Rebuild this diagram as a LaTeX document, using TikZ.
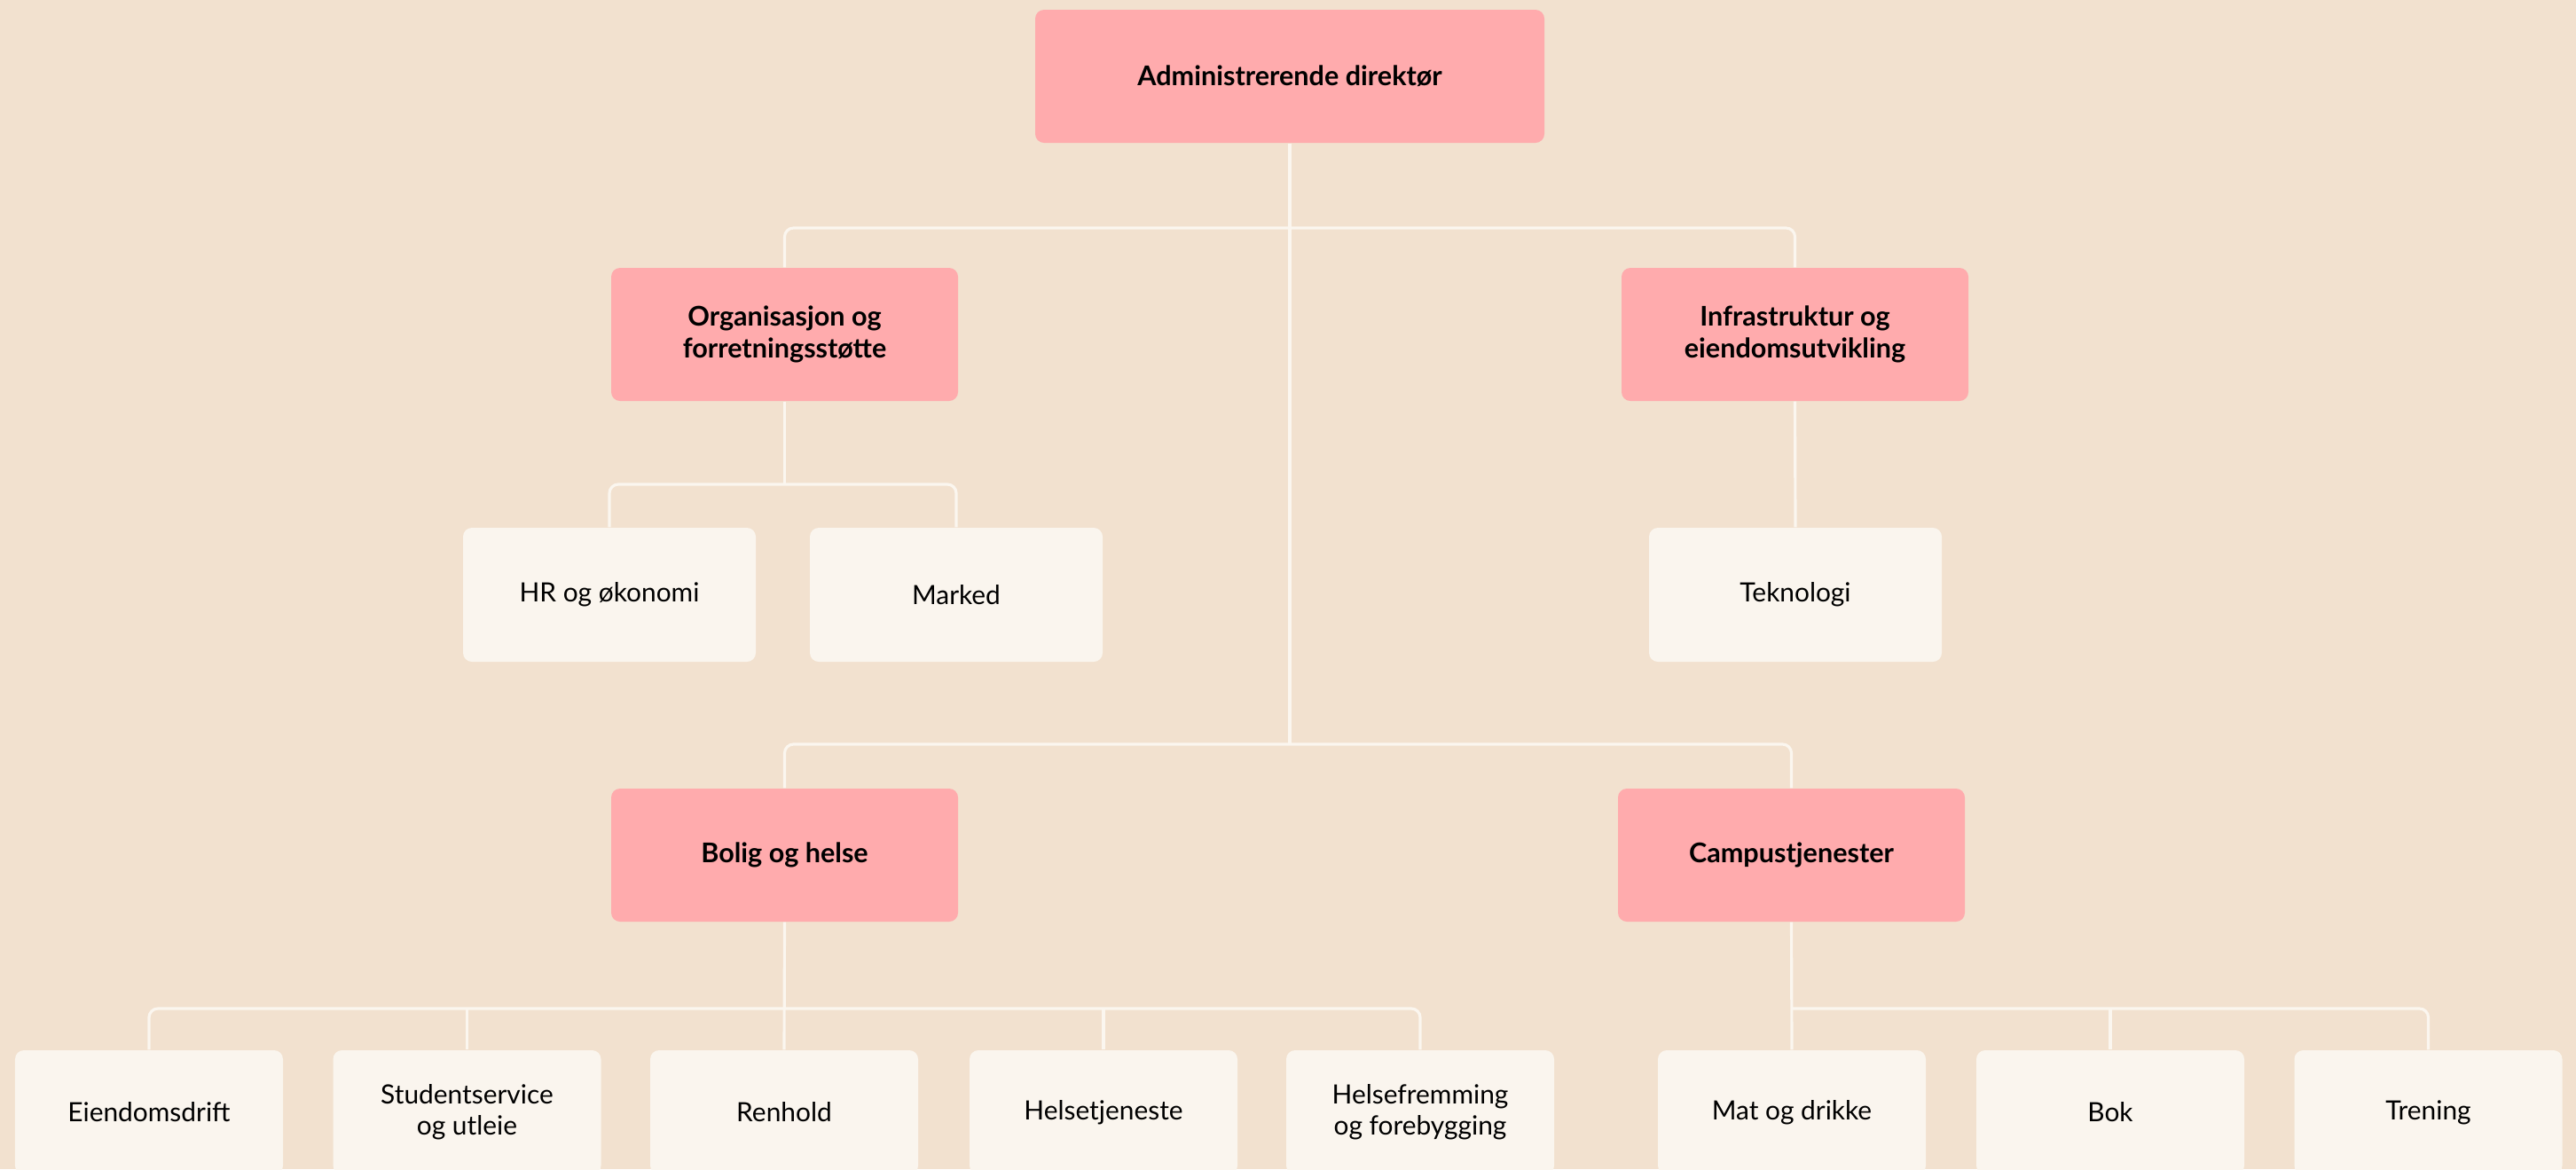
\documentclass[tikz,border=0pt]{standalone}
\usepackage{fontspec}
\setmainfont{Lato}
\usetikzlibrary{positioning}
\definecolor{sand}{HTML}{F2E1CF}
\definecolor{rose}{HTML}{FFABAD}
\definecolor{cream}{HTML}{FAF5EE}
\definecolor{wirecol}{HTML}{FBF6EF}
\tikzstyle{lead}=[rectangle, draw=none, rounded corners=0.1cm, fill=rose,
        text centered, text=black, align=center, font=\fontsize{8.7}{10.2}\selectfont\bfseries,
        minimum width=3.91cm, minimum height=1.5cm, inner sep=0pt]
\tikzstyle{unit}=[rectangle, draw=none, rounded corners=0.1cm, fill=cream,
        text centered, text=black, align=center, font=\fontsize{8.5}{10}\selectfont,
        minimum width=3.02cm, minimum height=1.51cm, inner sep=0pt]
\tikzstyle{wire}=[draw=wirecol, line width=0.9pt, rounded corners=0.1cm]

\begin{document}
\begin{tikzpicture}
\useasboundingbox (0,0) rectangle (29.04,-13.18);
\fill[sand] (0,0) rectangle (29.04,-13.18);
\clip (0,0) rectangle (29.04,-13.18);
\coordinate (busA) at (0,-2.57);
\coordinate (busB) at (0,-5.46);
\coordinate (busC) at (0,-8.39);
\coordinate (busD) at (0,-11.37);
\node[lead, minimum width=5.74cm] (dir) at (14.54,-0.86) {Administrerende direktør};
\node[lead] (org) at (8.845,-3.77) {Organisasjon og\\forretningsstøtte};
\node[lead] (infra) at (20.235,-3.77) {Infrastruktur og\\eiendomsutvikling};
\node[unit, minimum width=3.3cm] (hr) at (6.87,-6.705) {HR og økonomi};
\node[unit, minimum width=3.3cm] (mark) at (10.78,-6.705) {Marked};
\node[unit, minimum width=3.3cm] (tek) at (20.24,-6.705) {Teknologi};
\node[lead] (bolig) at (8.845,-9.64) {Bolig og helse};
\node[lead] (campus) at (20.195,-9.64) {Campustjenester};
\node[unit, minimum height=1.4cm] (drift) at (1.68,-12.54) {Eiendomsdrift};
\node[unit, minimum height=1.4cm] (stud) at (5.265,-12.54) {Studentservice\\og utleie};
\node[unit, minimum height=1.4cm] (renh) at (8.84,-12.54) {Renhold};
\node[unit, minimum height=1.4cm] (hels) at (12.44,-12.54) {Helsetjeneste};
\node[unit, minimum height=1.4cm] (frem) at (16.01,-12.54) {Helsefremming\\og forebygging};
\node[unit, minimum height=1.4cm] (mat) at (20.2,-12.54) {Mat og drikke};
\node[unit, minimum height=1.4cm] (bok) at (23.79,-12.54) {Bok};
\node[unit, minimum height=1.4cm] (tren) at (27.375,-12.54) {Trening};
\fill[cream] (drift.south west) rectangle ([yshift=-0.3cm]drift.south east);
\fill[cream] (stud.south west) rectangle ([yshift=-0.3cm]stud.south east);
\fill[cream] (renh.south west) rectangle ([yshift=-0.3cm]renh.south east);
\fill[cream] (hels.south west) rectangle ([yshift=-0.3cm]hels.south east);
\fill[cream] (frem.south west) rectangle ([yshift=-0.3cm]frem.south east);
\fill[cream] (mat.south west) rectangle ([yshift=-0.3cm]mat.south east);
\fill[cream] (bok.south west) rectangle ([yshift=-0.3cm]bok.south east);
\fill[cream] (tren.south west) rectangle ([yshift=-0.3cm]tren.south east);

\draw[wire] (dir.south) -- (dir.south |- busC);
\draw[wire] (org.north) |- (dir.south |- busA) -| (infra.north);
\draw[wire] (bolig.north) |- (dir.south |- busC) -| (campus.north);
\draw[wire] (org.south) -- (org.south |- busB);
\draw[wire] (hr.north) |- (org.south |- busB) -| (mark.north);
\draw[wire] (infra.south) -- (tek.north);
\draw[wire] (bolig.south) -- (renh.north);
\draw[wire] (drift.north) |- (renh.north |- busD) -| (frem.north);
\draw[wire] (stud.north) -- (stud.north |- busD);
\draw[wire] (hels.north) -- (hels.north |- busD);
\draw[wire] (campus.south) -- (mat.north);
\draw[wire] (mat.north |- busD) -| (tren.north);
\draw[wire] (bok.north) -- (bok.north |- busD);
\end{tikzpicture}
\end{document}
